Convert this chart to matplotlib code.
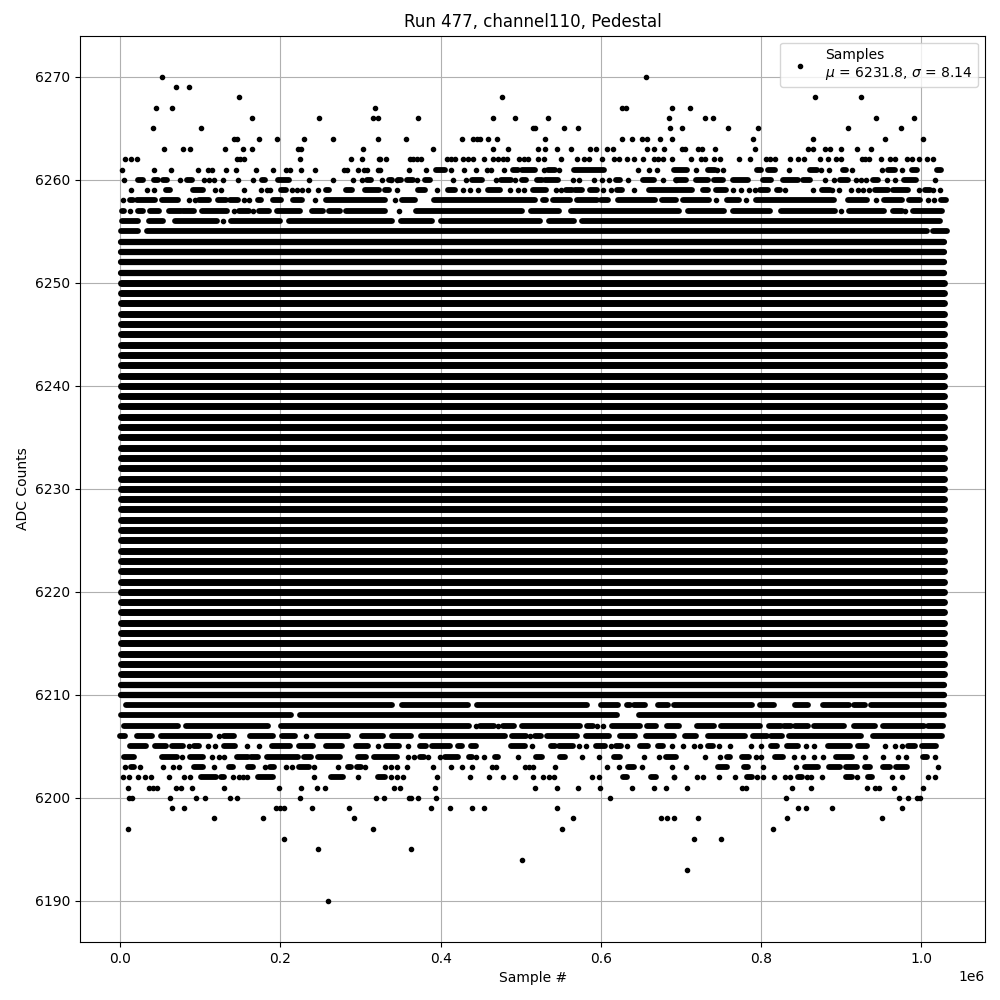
import matplotlib
matplotlib.use('Agg')
import matplotlib.pyplot as plt

# all x values in thousands of samples

###sparse samples, per ADC level###################################
dots_6270 = [51.7, 656.7]
dots_6269 = [69.2, 85.4]
dots_6268 = [147.9, 476.7, 867.9, 925.4]
dots_6267 = [44.2, 64.2, 317.9, 626.7, 631.7, 689.2, 711.7]
dots_6266 = [164.2, 247.9, 315.4, 322.1, 371.7, 465.4, 492.9, 534.2, 685.4, 730.4, 740.4, 944.2, 991.7]
dots_6265 = [40.4, 100.4, 515.4, 518.3, 554.2, 571.7, 686.7, 701.7, 759.2, 796.7, 909.2, 975.4]
dots_6264 = [141.7, 145.4, 172.9, 195.4, 229.2, 265.4, 321.7, 356.7, 426.7, 440.4, 445.4, 449.2, 459.2, 470.4,
             530.4, 626.7, 639.2, 651.7, 658, 674.2, 689.2, 790.4, 865.4, 955.4, 1003]
dots_6263 = [54.2, 77.9, 86.7, 130.4, 152.9, 164.2, 222, 225.4, 302.9, 390.4, 465.4, 484.2, 521.7, 530.4, 545.4,
             562.9, 586.7, 594.2, 608, 615.4, 658, 666.7, 679.2, 701, 705.8, 722, 726, 742.9, 793, 859.2, 865.4,
             880, 886, 900.4, 920.4, 938]
dots_6262 = [5.4, 12.9, 20.4, 145.4, 149.2, 154.2, 224.2, 287.9, 301.7, 323, 324.6, 331.7, 361.25, 365, 370, 375.8,
             408, 413, 417.5, 428, 434.2, 440.4, 453.75, 465.4, 471.7, 478, 482.5, 498, 504.2, 509.2, 521.7, 529.2,
             550.4, 570.4, 579.2, 585.4, 601.7, 616.25, 622.9, 632.5, 641.7, 653, 666.7, 671.7, 678, 689.6, 712.9,
             725, 730.8, 741.7, 749.2, 773, 786.7, 807, 812, 817.5, 836.7, 846.7, 854.2, 874.2, 884.2, 893.75, 899.6,
             925.8, 930, 935.4, 949.6, 961.25, 968, 983, 988.3, 997.9, 1007.9, 1015.4]
dots_6261 = [1.7, 41.7, 62.9, 96.7, 109.2, 114.2, 131.7, 144.2, 169.2, 190.4, 206.7, 212.1, 225.4, 242.9, 279.2,
             282.5, 296.7, 304.2, 308, 321.7, 324.6, 360.4, 381.7, 413, 429.2, 444.2, 458, 463.3, 479.2, 529.2, 548,
             646.7, 660.4, 670.4, 719.2, 745.8, 752.9, 835.4, 875.4, 885.4, 914.2, 951.7, 976.7]
dots_6260 = [4.2, 74.2, 104.2, 110.4, 116.7, 127.9, 146.7, 165.4, 235.4, 265.4, 290.4, 301.7, 326.7, 345.4, 338.3,
             370.4, 415.4, 431.7, 469.2, 493.3, 565.4, 573, 591.7, 601.7, 610.4, 634.2, 678, 693.75, 880.4, 891.7,
             919.2, 925.4, 931.7, 957.1, 968, 1017.9]
dots_6259 = [13.75, 32.9, 41.7, 117.9, 125.4, 154.2, 175.4, 183, 186.7, 214.2, 220.4, 226.7, 234.2, 246.7, 345.4,
             395.4, 428, 436.7, 446.7, 486.7, 496.7, 504.2, 544.2, 550.4, 603, 613, 641.25, 765.4, 775.4, 785.4, 793,
             830.4, 865.4, 889.2, 898, 912.9, 921.7, 928, 935.4, 997.9, 1015.4, 1024.2]
dots_6258 = [2.9, 85.4, 92.9, 154.2, 161.25, 242.9, 342.9, 744, 781.7, 944.2, 1009, 1016.7]
dots_6257 = [12.5, 141.7, 165.4, 348, 900.4, 980.4]
dots_6256 = [127.9]

dots_6207 = [444.6, 471.7, 595.4, 603]
dots_6206 = [122.9, 231.7, 511.7]
dots_6205 = [85.4, 109.2, 117.9, 158, 172.9, 321.7, 359.2, 514.2, 573, 581.7, 613, 633, 689.2, 703, 716.7, 724.2,
             748, 761.7, 788, 800.4, 856.7, 866.7, 955.4, 968, 976.7]
dots_6204 = [76.7, 114.2, 122.9, 129.2, 359.2, 366.7, 384.2, 399.2, 444.6, 454.2, 496.7, 576.7, 598, 654.2, 673,
             730.4, 749.2, 794.2, 800.4, 841.7, 853, 866.7, 878, 930.4, 953, 971.7, 981.7, 1017.9]
dots_6203 = [5.4, 24.2, 52.9, 65.4, 73, 116.7, 180.4, 206.7, 214.2, 241.7, 271.7, 305.4, 330.4, 338, 345.4, 358,
             390.4, 413, 426.7, 439.2, 464.2, 469.6, 505.4, 510.4, 515.4, 543, 608, 623, 651.7, 689.2, 706.7, 802.9,
             844.2, 1021.7]
dots_6202 = [2.9, 10.4, 22.5, 30.4, 38.3, 60.4, 79.2, 86.7, 140.4, 147.9, 153, 158, 241.7, 297.1, 338, 345.4, 353,
             395.4, 436.7, 460.4, 478, 493, 515.4, 528, 535.4, 541.7, 589.2, 598, 692, 691.7, 720.4, 728, 747.9, 768,
             795.4, 802.9, 816.7, 830.4, 836.7, 858, 862.9, 876.7, 920.4, 964.2, 976.7, 1009.2, 1017.9]
dots_6201 = [9.2, 35.4, 40.4, 45.4, 69.2, 75.4, 89.2, 129.2, 198, 225.4, 245.4, 255.4, 341.7, 349.2, 392.9, 518,
             545.4, 571.7, 599.2, 639.2, 666.7, 681.7, 707.9, 776.7, 781.7, 839.2, 862.9, 932, 943, 948, 966.7, 1003]
dots_6200 = [10.4, 14.2, 61.7, 94.2, 105.4, 136.7, 145.4, 224.2, 319.2, 329.2, 360.4, 363, 371.7, 394.2, 611.7,
             831.7, 973, 984.2, 995.4, 999.2]
dots_6199 = [64.2, 79.2, 194.6, 199, 204, 239.2, 285.4, 387.9, 411.7, 439.2, 454.2, 545.4, 846.7, 856.7, 889.2, 976.7]
dots_6198 = [116.7, 177.9, 291.7, 565.4, 675.4, 683, 691.7, 721.7, 832.9, 951.7]
dots_6197 = [9.2, 315.4, 551.7, 815.4]
dots_6196 = [204.2, 716.7, 750.4]
dots_6195 = [246.7, 362.9]
dots_6194 = [501.7]
dots_6193 = [707.9]
dots_6190 = [259.2]

###filled stretches, per ADC level#################################
runs_6261 = [(394, 405), (490.4, 496.7), (501.7, 517.5), (534.2, 542.5), (563, 607), (688.3, 711.25), (734, 742.5),
             (795.4, 800.8), (809, 817.5), (861.25, 869.6), (903, 907), (959, 967.5), (988.3, 994.6), (1019.6, 1024.6)]
runs_6260 = [(21.7, 27.9), (41.7, 46.7), (52.9, 57.9), (82.9, 89.2), (176.7, 180.4), (196.7, 210.4), (308, 313),
             (335.4, 339), (346.7, 350), (358, 365.4), (380, 386.25), (439.2, 452), (475.8, 488.3), (501.7, 507),
             (520.4, 526.7), (530.8, 546.7), (619.2, 623.75), (648.75, 669.6), (693.75, 707), (719.6, 734.2),
             (741.7, 752.9), (765.4, 784.2), (802.9, 813.3), (827.9, 846.7), (852.9, 861.25), (898.75, 909.2),
             (940.4, 946.7), (975.8, 996.7)]
runs_6259 = [(57.1, 61.7), (90.4, 102.9), (200.4, 206.7), (257, 261.25), (281.25, 289.2), (305.4, 322.9),
             (330.4, 335.4), (371.7, 380), (409.2, 417.5), (456.25, 478), (515.4, 532), (556.7, 564.6), (568, 576.7),
             (586.7, 595.4), (620.4, 626.7), (656.25, 717.5), (728, 734.2), (744.6, 757), (798.75, 809),
             (819.6, 823.75), (875.8, 886.25), (942.5, 959), (965.4, 984.2), (1005.4, 1011.25)]
runs_6258 = [(11.7, 15.4), (17.9, 46.7), (48.75, 75.8), (98.75, 111.25), (121.7, 132.1), (137.1, 146.7),
             (171.7, 175.8), (190.4, 200.8), (215.4, 227.1), (252.9, 334.2), (352, 367.5), (388.3, 521.7), (528, 532),
             (537.5, 565.4), (567.5, 598.75), (600.8, 609.2), (617.5, 671.7), (676.7, 694.6), (698.75, 738.3),
             (754, 776.7), (790.4, 894.6), (905, 936.25), (950.8, 980), (985.4, 998.75), (1024.6, 1031.25)]
runs_6257 = [(2.1, 5), (21.7, 27.9), (37.5, 48.75), (60.4, 75.8), (78.75, 92.5), (98.75, 136.25), (147.9, 161.25),
             (173.75, 186.25), (192.5, 227.9), (236.25, 257.1), (261.25, 273.75), (277.9, 334.2), (365.4, 505),
             (509.2, 550.8), (559.2, 700.8), (705, 757), (761.25, 815.4), (821.7, 896.7), (907, 957), (964.6, 975.8),
             (986.25, 1030)]
runs_6256 = [(2.1, 21.7), (32, 57), (65.4, 123.75), (134.2, 203), (207, 342.5), (346.7, 392.5), (396.7, 528),
             (532, 569.6), (573.75, 1027.9)]
runs_6255 = [(-2.5, 25.8), (29.2, 1011), (1015, 1032.5)]

runs_6209 = [(3, 342.5), (348, 438.3), (442.5, 586.25), (596.7, 625), (633, 637), (641.25, 655), (671.7, 684.2),
             (688.3, 792.5), (795.8, 819.6), (838.75, 862.5), (873.75, 913.3), (916.7, 930), (934, 1032.5)]
runs_6208 = [(-2.5, 216.7), (220.9, 623.75), (643.75, 1032.5)]
runs_6207 = [(0.8, 75.8), (78.75, 188.3), (196.7, 439.6), (449.6, 466.25), (478, 491.25), (498, 578), (583, 590.4),
             (610.4, 653), (658, 669.6), (683, 698), (716.25, 744.6), (746.7, 802), (810.4, 825.8), (829.2, 838.3),
             (842.5, 859.2), (863.3, 907), (913.3, 946.7), (948.75, 1007), (1009.2, 1027)]
runs_6206 = [(0, 6.25), (17.5, 42.5), (46.7, 115.4), (130, 142.5), (158, 194.6), (198.75, 221.7), (242.5, 288.3),
             (298, 332), (336.25, 366.25), (371.7, 484.2), (489, 506.25), (517.5, 525.8), (530, 573.75), (578.75, 613.3),
             (620.4, 646.7), (653, 695.4), (705, 719.6), (730, 784.2), (790.4, 808.3), (812.5, 827), (831.25, 928),
             (936.25, 1030)]
runs_6205 = [(8, 35.4), (43, 57), (64.6, 78.75), (91.7, 97.9), (125.9, 146.7), (185.4, 215.4), (222.9, 240.4),
             (254, 280), (290.4, 313.3), (332, 348), (374.6, 381.25), (386.25, 415.4), (421.7, 427), (438.3, 443.75),
             (488, 505), (537.5, 542.5), (548, 565.4), (594.6, 605), (619.6, 625.8), (648.75, 659.2), (671.7, 678),
             (734.2, 740.4), (813, 819.6), (833, 846.7), (880.4, 915.4), (921.7, 933), (984.2, 992.5), (998, 1021.7)]
runs_6204 = [(5, 17.5), (48.75, 74.6), (82.9, 107), (145.4, 159.2), (163.3, 171.7), (179.2, 225.9), (230, 238.3),
             (243.75, 277.9), (296.7, 306.25), (313.3, 348.75), (374.6, 379), (405.4, 421.7), (435.4, 439.6),
             (468, 471.7), (519, 527), (548.75, 555), (616.7, 623.75), (682, 693.75), (758, 761.7), (776.7, 785.4),
             (818, 828), (893.4, 913.3), (1003, 1008)]
runs_6203 = [(13.3, 17.5), (91.7, 102.9), (136.25, 141.25), (159.2, 165.4), (187.5, 192.5), (223.75, 235.4),
             (284.2, 288.3), (295.4, 300.8), (634.2, 641.7), (746.7, 758), (779.2, 784.2), (855.4, 871.7),
             (885.4, 898.75), (907, 919.6), (930.4, 936.25), (953, 961.25), (969.2, 983)]
runs_6202 = [(100.8, 119.6), (125.9, 130), (171.7, 190.4), (263.3, 277.9), (321.7, 330), (628, 633), (663, 668.75),
             (782.9, 789.2), (846.7, 851.7), (907, 913.3), (934, 939.2)]
solid_span = (1, 1029)

dot_levels = [(6270, dots_6270), (6269, dots_6269), (6268, dots_6268), (6267, dots_6267), (6266, dots_6266),
              (6265, dots_6265), (6264, dots_6264), (6263, dots_6263), (6262, dots_6262), (6261, dots_6261),
              (6260, dots_6260), (6259, dots_6259), (6258, dots_6258), (6257, dots_6257), (6256, dots_6256),
              (6207, dots_6207), (6206, dots_6206), (6205, dots_6205), (6204, dots_6204), (6203, dots_6203),
              (6202, dots_6202), (6201, dots_6201), (6200, dots_6200), (6199, dots_6199), (6198, dots_6198),
              (6197, dots_6197), (6196, dots_6196), (6195, dots_6195), (6194, dots_6194), (6193, dots_6193),
              (6190, dots_6190)]
run_levels = [(6261, runs_6261), (6260, runs_6260), (6259, runs_6259), (6258, runs_6258), (6257, runs_6257),
              (6256, runs_6256), (6255, runs_6255), (6209, runs_6209), (6208, runs_6208), (6207, runs_6207),
              (6206, runs_6206), (6205, runs_6205), (6204, runs_6204), (6203, runs_6203), (6202, runs_6202)]
solid_levels = list(range(6210, 6255))

fig, ax = plt.subplots(figsize=(10, 10))
fig.subplots_adjust(left=0.0803, right=0.985, top=0.9643, bottom=0.058)

first = True
for level, xs in dot_levels:
    ax.plot([x * 1e3 for x in xs], [level] * len(xs), 'k.',
            label='Samples\n$\\mu$ = 6231.8, $\\sigma$ = 8.14' if first else None)
    first = False

# long stretches were read at their outer edge, the round cap adds that back
cap = 3.5
for level, spans in run_levels:
    for a, b in spans:
        if b - a > 20:
            a, b = a + cap, b - cap
        ax.hlines(level, a * 1e3, b * 1e3, colors='k', linewidth=4.2, capstyle='round', zorder=2)
for level in solid_levels:
    # middle bands come out thicker in the reference
    lw = 5 if 6212 <= level <= 6250 else 4.5
    ax.hlines(level, solid_span[0] * 1e3, solid_span[1] * 1e3, colors='k', linewidth=lw, capstyle='round', zorder=2)

ax.set_xlim(-50e3, 1080e3)
ax.set_ylim(6186, 6274)
ax.set_title('Run 477, channel110, Pedestal')
ax.set_xlabel('Sample #')
ax.set_ylabel('ADC Counts')
ax.grid(True)
ax.legend(loc='upper right')
fig.savefig('out.png', dpi=100)
